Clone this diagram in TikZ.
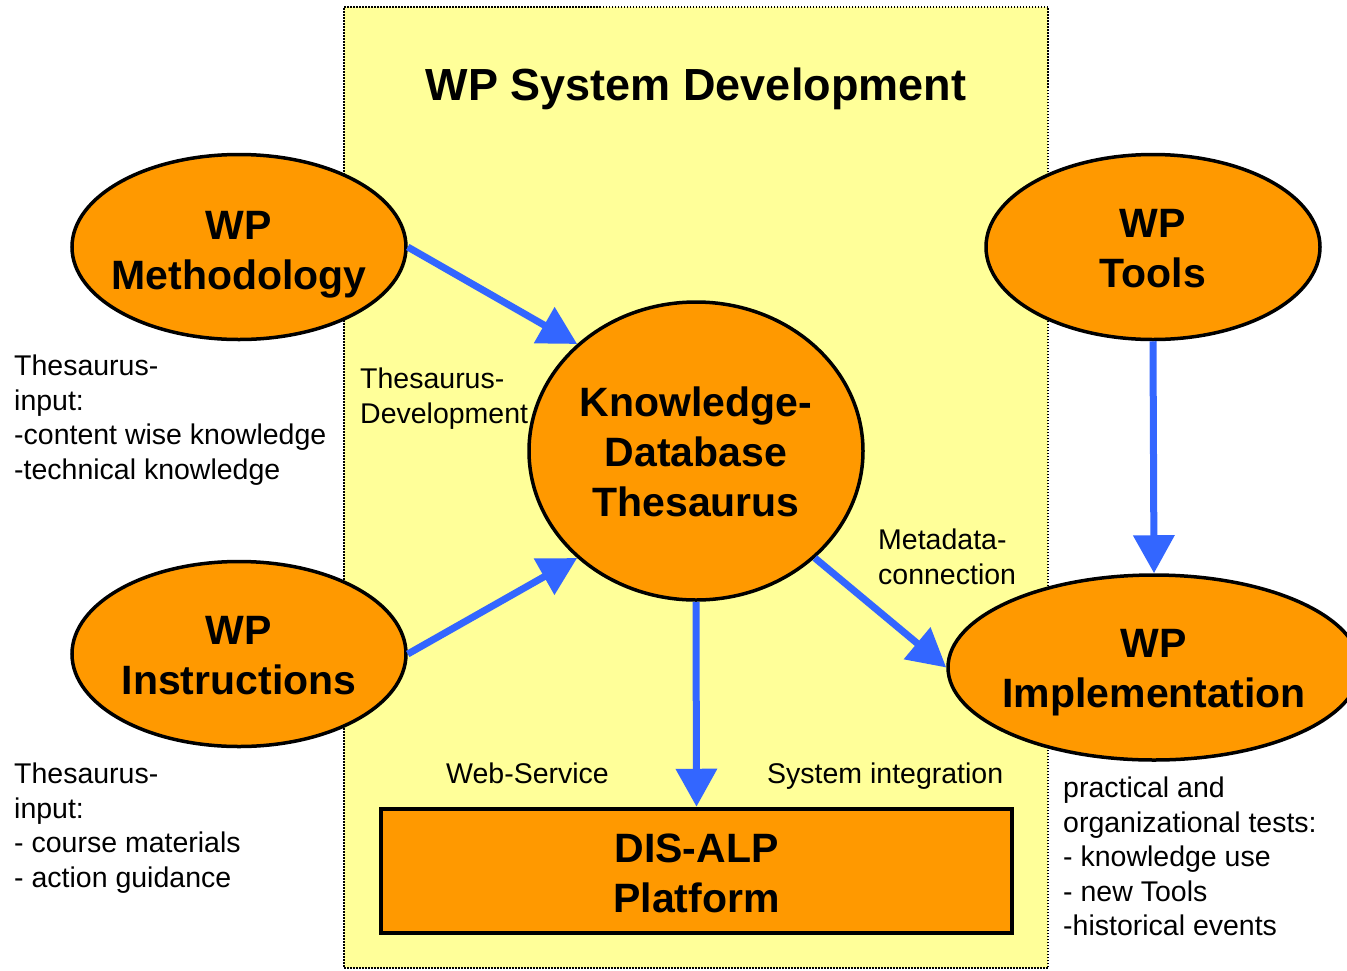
\documentclass[tikz,border=0pt]{standalone}
\usepackage{fontspec}
\setmainfont{Liberation Sans}
\usetikzlibrary{shapes.geometric,arrows.meta}
\definecolor{sysyellow}{HTML}{FFFF99}
\definecolor{wporange}{HTML}{FF9900}
\definecolor{arrowblue}{HTML}{3366FF}
\tikzset{
  wp/.style={ellipse, draw=black, line width=3.5pt, fill=wporange, inner sep=0pt,
    minimum width=334pt, minimum height=185pt},
  wptext/.style={inner sep=0pt, align=center,
    font=\fontsize{41}{50}\selectfont\bfseries},
  note/.style={anchor=north west, inner sep=0pt, align=left,
    font=\fontsize{28.5}{34.4}\selectfont},
  flow/.style={draw=arrowblue, line width=7pt, -{Triangle[length=38pt,width=40pt]}}
}
\begin{document}
\begin{tikzpicture}[x=1pt,y=-1pt]
\useasboundingbox (0,0) rectangle (1347,970);
\node[draw=black, line width=1.5pt, dash pattern=on 1.5pt off 1.5pt, fill=sysyellow,
  minimum width=704pt, minimum height=961pt, inner sep=0pt] (sysbox) at (696,487.5) {};
\node[anchor=base, inner sep=0pt, font=\fontsize{45}{50}\selectfont\bfseries] (title) at (696,100) {WP System Development};

\node[wp] (meth) at (239,247) {};
\node[wptext] (methtext) at (239,255) {WP\\Methodology};
\node[wp] (tools) at (1153,247) {};
\node[wptext] (toolstext) at (1153,249) {WP\\Tools};
\node[wp] (instr) at (239,654) {};
\node[wptext] (instrtext) at (239,656) {WP\\Instructions};
\node[wp, minimum width=334pt, minimum height=298pt] (know) at (696,451) {};
\node[wptext] (knowtext) at (696,452) {Knowledge-\\Database\\Thesaurus};
\node[wp, minimum width=412pt] (impl) at (1154,667.5) {};
\node[wptext] (impltext) at (1154,673) {WP\\Implementation};
\node[draw=black, line width=4.5pt, fill=wporange, minimum width=631pt, minimum height=124pt,
  inner sep=0pt] (dis) at (696.5,871) {};
\node[wptext] (distext) at (696.5,873) {DIS-ALP\\Platform};

\node[note] (n1) at (14,355) {Thesaurus-\\input:\\-content wise knowledge\\-technical knowledge};
\node[note] (n2) at (360,368) {Thesaurus-\\Development};
\node[note] (n3) at (878,529) {Metadata-\\connection};
\node[note] (n4) at (446,763) {Web-Service};
\node[note] (n5) at (767,763) {System integration};
\node[note] (n6) at (14,763) {Thesaurus-\\input:\\- course materials\\- action guidance};
\node[note] (n7) at (1063,777) {practical and\\organizational tests:\\- knowledge use\\- new Tools\\-historical events};

\draw[flow] (meth.east) -- (know.138);
\draw[flow] (instr.east) -- (know.222);
\draw[flow] (know.-42) -- (impl.west);
\draw[flow] (know.south) -- (dis.north);
\draw[flow] (tools.south) -- (impl.north);
\end{tikzpicture}
\end{document}
